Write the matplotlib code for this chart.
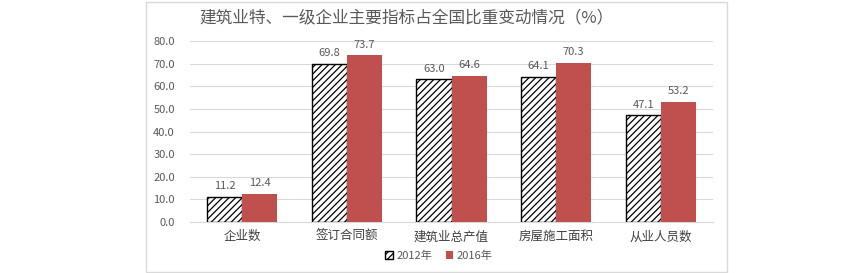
import matplotlib.pyplot as plt
import numpy as np
from matplotlib.patches import Rectangle

plt.rcParams['font.family'] = ['Noto Sans CJK SC', 'DejaVu Sans']
plt.rcParams['hatch.linewidth'] = 0.9

categories = ['企业数', '签订合同额', '建筑业总产值', '房屋施工面积', '从业人员数']
values_2012 = [11.2, 69.8, 63.0, 64.1, 47.1]
values_2016 = [12.4, 73.7, 64.6, 70.3, 53.2]
series_labels = ['2012年', '2016年']
yticks = [0, 10, 20, 30, 40, 50, 60, 70, 80]

red = '#c0504d'
text_color = '#595959'

fig = plt.figure(figsize=(8.6, 2.73), dpi=100)
# light frame around the chart
fig.patches.append(Rectangle((146 / 860, 1 / 273), (727 - 146) / 860, 270 / 273,
                             transform=fig.transFigure, fill=False,
                             edgecolor='#d9d9d9', linewidth=1.0))

ax = fig.add_axes([190 / 860, 1 - 222 / 273, (713 - 190) / 860, (222 - 41) / 273])

x = np.arange(len(categories))
w = 0.335
b1 = ax.bar(x - w / 2, values_2012, w, facecolor='white', edgecolor='black',
            hatch='/////', linewidth=1.0, label=series_labels[0], zorder=3)
b2 = ax.bar(x + w / 2, values_2016, w, color=red, label=series_labels[1], zorder=3)

for bars in (b1, b2):
    for rect in bars:
        h = rect.get_height()
        ax.text(rect.get_x() + rect.get_width() / 2, h + 2.5, f'{h:.1f}',
                ha='center', va='bottom', fontsize=8, color=text_color)

ax.set_xlim(-0.5, len(categories) - 0.5)
ax.set_ylim(0, 80)
ax.set_yticks(yticks)
ax.set_yticklabels([f'{v:.1f}' for v in yticks], fontsize=8, color=text_color)
ax.set_xticks(x)
ax.set_xticklabels(categories, fontsize=9, color='#404040')
ax.tick_params(axis='both', length=0)
ax.tick_params(axis='y', pad=11)
ax.tick_params(axis='x', pad=6)
ax.grid(axis='y', color='#d9d9d9', linewidth=0.8, zorder=0)
for s in ['top', 'right', 'left']:
    ax.spines[s].set_visible(False)
ax.spines['bottom'].set_color('#d9d9d9')

fig.text(406 / 860, 1 - 18 / 273, '建筑业特、一级企业主要指标占全国比重变动情况（%）',
         ha='center', va='center', fontsize=12, color=text_color)

fig.legend(handles=[b1, b2], labels=series_labels, loc='center',
           bbox_to_anchor=(439 / 860, 1 - 256 / 273), ncol=2, frameon=False,
           fontsize=8, handlelength=0.7, handleheight=0.7, handletextpad=0.3,
           columnspacing=1.2, labelcolor=text_color)

fig.savefig('out.png', dpi=100, facecolor='white')
